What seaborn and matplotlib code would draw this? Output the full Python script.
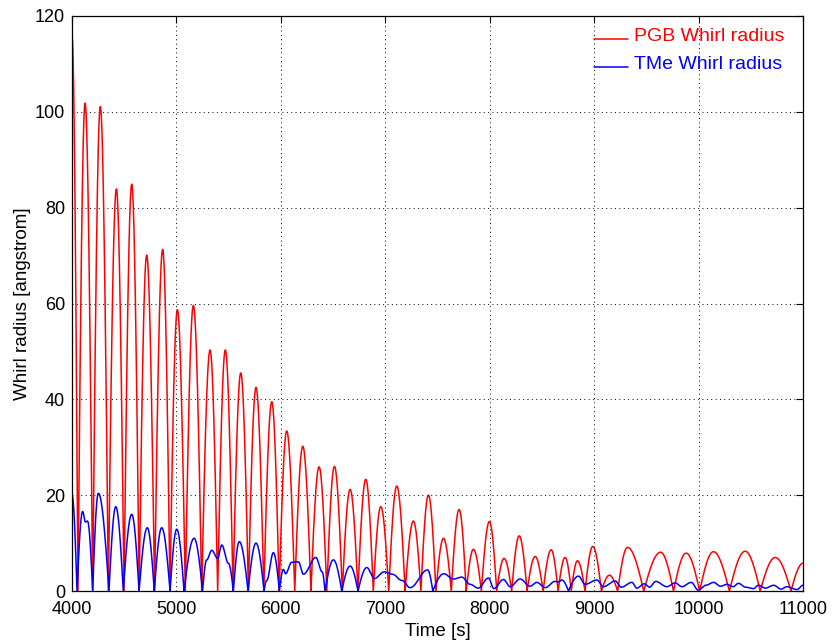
import numpy as np
import pandas as pd
import matplotlib
matplotlib.use("Agg")
import matplotlib.pyplot as plt
import seaborn as sns

# Turning points of the PGB whirl radius [angstrom] over time [s]
pgb_time = [4000, 4057, 4125, 4198, 4271, 4348, 4425, 4498, 4572, 4643,
            4715, 4791, 4868, 4938, 5009, 5085, 5162, 5242, 5322, 5395,
            5468, 5542, 5616, 5689, 5762, 5837, 5913, 5984, 6056, 6133,
            6210, 6288, 6366, 6440, 6513, 6588, 6663, 6738, 6813, 6885,
            6957, 7033, 7110, 7190, 7269, 7341, 7413, 7485, 7557, 7632,
            7707, 7775, 7844, 7920, 7997, 8067, 8138, 8210, 8282, 8358,
            8435, 8511, 8588, 8655, 8722, 8781, 8840, 8913, 8987, 9070,
            9146, 9225, 9319, 9475, 9636, 9760, 9881, 10010, 10142, 10295,
            10446, 10590, 10734, 10885, 11000]
pgb_radius = [116, 0, 101.8, 0, 101.1, 0, 83.9, 0, 84.9, 0,
              70.1, 0, 71.3, 0, 58.7, 0, 59.6, 0, 50.3, 0,
              50.3, 0, 45.5, 0, 42.5, 0, 39.5, 0, 33.4, 0,
              30.2, 0, 25.9, 0, 26.0, 0, 21.2, 0, 23.3, 0,
              17.6, 0, 21.9, 0, 14.6, 0, 20.0, 0, 11.0, 0,
              17.0, 0, 8.7, 0, 14.5, 0, 6.8, 0, 11.5, 0,
              7.2, 0, 8.6, 0, 7.0, 0, 6.3, 0, 9.3, 0,
              3.3, 0, 9.1, 0, 8.1, 0, 7.9, 0, 8.2, 0,
              8.3, 0, 7.0, 0, 5.8]

# Turning points of the TMe whirl radius [angstrom] over time [s]
tme_time = [4000, 4048, 4102, 4128, 4148, 4198, 4252, 4354, 4419, 4491,
            4572, 4642, 4721, 4788, 4859, 4939, 5003, 5073, 5169, 5250,
            5290, 5338, 5395, 5434, 5497, 5545, 5602, 5686, 5762, 5839,
            5865, 5928, 5986, 6024, 6045, 6104, 6168, 6216, 6335, 6395,
            6423, 6503, 6583, 6663, 6739, 6823, 6895, 6990, 7070, 7158,
            7238, 7405, 7455, 7560, 7652, 7733, 7812, 7889, 7988, 8040,
            8131, 8195, 8291, 8387, 8451, 8531, 8626, 8660, 8690, 8754,
            8850, 8914, 9026, 9089, 9201, 9260, 9361, 9409, 9480, 9530,
            9590, 9696, 9776, 9840, 9930, 9996, 10070, 10143, 10210, 10271,
            10330, 10382, 10450, 10526, 10574, 10640, 10718, 10790, 10846, 10942,
            11000]
tme_radius = [20.0, 0, 16.6, 14.4, 14.6, 0, 20.4, 0, 17.6, 0,
              16.0, 0, 13.2, 0, 13.2, 0, 12.9, 0, 11.0, 0,
              6.5, 8.5, 6.8, 9.6, 5.8, 0, 10.3, 0, 10.0, 0,
              2.2, 8.0, 0, 4.5, 3.6, 6.0, 6.1, 3.5, 7.0, 4.0,
              0, 6.5, 0, 5.2, 0, 4.9, 2.6, 4.0, 3.5, 2.2,
              0.7, 4.4, 0, 3.6, 2.5, 2.9, 1.4, 0.6, 2.7, 0.5,
              2.4, 0.9, 2.5, 1.0, 1.8, 0.7, 2.0, 1.9, 2.3, 0,
              3.1, 1.4, 2.3, 0.9, 2.1, 0.8, 1.8, 0.6, 1.5, 0.8,
              2.0, 0.9, 1.7, 0.9, 1.8, 0.2, 1.2, 1.8, 1.0, 1.4,
              0.9, 1.6, 0.8, 0.5, 1.2, 0.6, 1.2, 0.4, 0.9, 0.3,
              1.2]

x_ticks = [4000, 5000, 6000, 7000, 8000, 9000, 10000, 11000]
y_ticks = [0, 20, 40, 60, 80, 100, 120]


def trace(knot_t, knot_v, step=1.0):
    """Smooth path through turning points: rounded crests, sharp touch-downs at zero."""
    ts, vs = [], []
    for t0, t1, v0, v1 in zip(knot_t[:-1], knot_t[1:], knot_v[:-1], knot_v[1:]):
        n = max(int((t1 - t0) / step), 2)
        s = np.linspace(0.0, 1.0, n, endpoint=False)
        if v0 == 0 and v1 > 0:
            v = v1 * np.sin(np.pi / 2 * s)
        elif v1 == 0 and v0 > 0:
            v = v0 * np.cos(np.pi / 2 * s)
        else:
            v = v0 + (v1 - v0) * (1 - np.cos(np.pi * s)) / 2
        ts.append(t0 + (t1 - t0) * s)
        vs.append(v)
    ts.append([knot_t[-1]])
    vs.append([knot_v[-1]])
    return np.concatenate(ts), np.concatenate(vs)


pgb_t, pgb_r = trace(pgb_time, pgb_radius)
tme_t, tme_r = trace(tme_time, tme_radius)

df = pd.concat([
    pd.DataFrame({"Time": pgb_t, "Radius": pgb_r, "Series": "PGB Whirl radius"}),
    pd.DataFrame({"Time": tme_t, "Radius": tme_r, "Series": "TMe Whirl radius"}),
], ignore_index=True)

sns.set_style("white")
plt.rcParams["font.family"] = ["Liberation Sans", "DejaVu Sans"]
plt.rcParams["text.color"] = "black"
plt.rcParams["axes.labelcolor"] = "black"

fig = plt.figure(figsize=(8.35, 6.42), dpi=100)
ax = fig.add_axes([72 / 835, 1 - 591 / 642, (803 - 72) / 835, (591 - 16) / 642])

palette = {"PGB Whirl radius": "#ff0000", "TMe Whirl radius": "#0000ff"}
sns.lineplot(data=df, x="Time", y="Radius", hue="Series", palette=palette,
             estimator=None, sort=False, linewidth=1.1, ax=ax)

ax.set_xlim(4000, 11000)
ax.set_ylim(0, 120)
ax.set_xticks(x_ticks)
ax.set_yticks(y_ticks)
ax.set_xticklabels([str(t) for t in x_ticks], fontsize=13)
ax.set_yticklabels([str(t) for t in y_ticks], fontsize=13)
ax.set_xlabel("Time [s]", fontsize=13.5)
ax.set_ylabel("Whirl radius [angstrom]", fontsize=13.5)
ax.xaxis.set_label_coords(0.5, -0.055)
ax.yaxis.set_label_coords(-0.056, 0.5)

ax.grid(True, color="black", linestyle=(0, (1, 3.5)), linewidth=0.7)
ax.tick_params(direction="in", length=5, width=0.8, top=True, right=True,
               colors="black")
ax.tick_params(axis="x", pad=7)
ax.tick_params(axis="y", pad=5)
for sp in ax.spines.values():
    sp.set_visible(True)
    sp.set_color("black")
    sp.set_linewidth(0.9)

leg = ax.legend(loc="upper right", bbox_to_anchor=(0.990, 1.0), frameon=False,
                fontsize=14, handlelength=1.75, handletextpad=0.3,
                labelspacing=0.5, borderaxespad=0.2)
for txt, line in zip(leg.get_texts(), leg.get_lines()):
    txt.set_color(line.get_color())
    # sample stroke sits on the text baseline
    yd = np.asarray(line.get_ydata(), dtype=float)
    line.set_ydata(yd - 3.5)

fig.savefig("out.png", dpi=100, facecolor="white")
